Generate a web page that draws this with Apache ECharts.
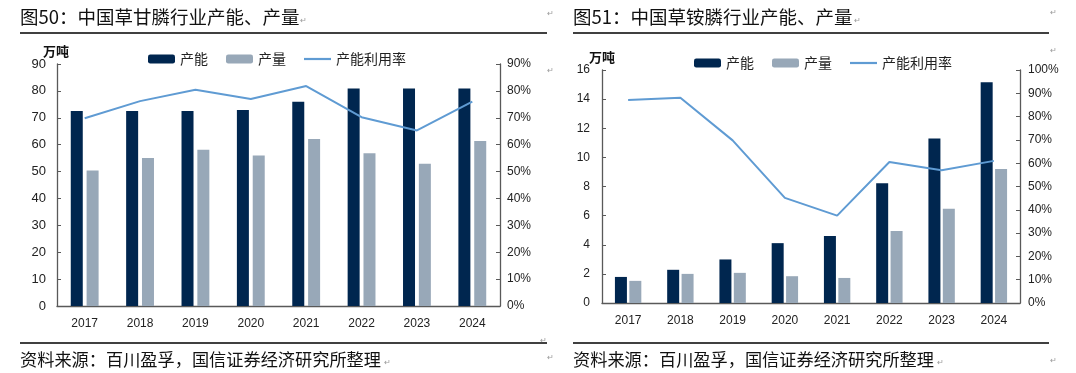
<!DOCTYPE html>
<html>
<head>
<meta charset="utf-8">
<script src="https://cdn.jsdelivr.net/npm/echarts@6/dist/echarts.min.js"></script>
<style>
html,body{margin:0;padding:0;background:#fff;}
#c{width:1076px;height:373px;}
</style>
</head>
<body>
<div id="c"></div>
<script>
// ---- data ----
const years = ['2017','2018','2019','2020','2021','2022','2023','2024'];
// 图50 草甘膦 (万吨, %)
const glyCapacity = [72.5, 72.5, 72.5, 72.9, 76.0, 80.9, 80.9, 80.9];
const glyOutput   = [50.4, 55.0, 58.1, 56.0, 62.1, 56.8, 52.9, 61.4];
const glyRate     = [69.8, 76.2, 80.4, 77.0, 81.8, 70.2, 65.3, 76.0];
// 图51 草铵膦 (万吨, %)
const gluCapacity = [1.79, 2.28, 2.99, 4.11, 4.60, 8.23, 11.30, 15.16];
const gluOutput   = [1.52, 2.00, 2.07, 1.84, 1.72, 4.94, 6.48, 9.21];
const gluRate     = [87.1, 88.1, 69.8, 45.1, 37.5, 60.5, 57.0, 61.0];
const seriesNames = ['产能', '产量', '产能利用率'];
const titles = ['图50：中国草甘膦行业产能、产量', '图51：中国草铵膦行业产能、产量'];
const sourceText = '资料来源：百川盈孚，国信证券经济研究所整理';
const unitText = '万吨';

// ---- style ----
const DARK = '#00264f', LIGHT = '#98a8b8', LINE = '#5f9bd3';
const AXIS = '#595959';
const CJK = '"Noto Sans CJK SC", sans-serif';
const NUM = '"Liberation Sans", Arial, sans-serif';

function yAxis(grid, min, max, interval, pos, suffix, fs, margin) {
  return {
    type: 'value', gridIndex: grid, position: pos, min: min, max: max, interval: interval,
    splitLine: {show: false},
    axisLine: {show: true, lineStyle: {color: AXIS, width: 1.3}},
    axisTick: {show: true, inside: true, length: 4, lineStyle: {color: AXIS}},
    axisLabel: {formatter: '{value}' + suffix, color: '#222', fontSize: fs, fontFamily: NUM, margin: margin}
  };
}
function xAxis(grid, fs) {
  return {
    type: 'category', gridIndex: grid, data: years,
    axisLine: {lineStyle: {color: AXIS, width: 1.3}},
    axisTick: {inside: true, length: 5, lineStyle: {color: AXIS}},
    axisLabel: {color: '#222', fontSize: fs, fontFamily: NUM, margin: 12}
  };
}
function legend(left, top) {
  return {
    left: left, top: top, padding: 0, itemWidth: 27, itemHeight: 9, itemGap: 18,
    data: [
      {name: seriesNames[0]},
      {name: seriesNames[1]},
      {name: seriesNames[2], icon: 'path://M0,0L27,0L27,2.2L0,2.2Z'}
    ],
    textStyle: {fontSize: 14, fontFamily: CJK, color: '#222'}
  };
}
function txt(x, y, s, fs, opts) {
  return Object.assign({type: 'text', x: x, y: y, style: Object.assign({text: s, fontSize: fs, fontFamily: CJK, fill: '#111', textVerticalAlign: 'middle'}, opts || {})});
}
function hline(x1, x2, y) {
  return {type: 'line', shape: {x1: x1, y1: y, x2: x2, y2: y}, style: {stroke: '#000', lineWidth: 1.3}};
}
const mark = (x, y) => txt(x, y, '↵', 8, {fill: '#999'});

const chart = echarts.init(document.getElementById('c'), null, {renderer: 'canvas'});
chart.setOption({
  animation: false,
  grid: [
    {left: 57, top: 64, width: 443, height: 242},
    {left: 602, top: 70, width: 418, height: 233}
  ],
  xAxis: [xAxis(0, 12), xAxis(1, 12)],
  yAxis: [
    yAxis(0, 0, 90, 10, 'left', '', 13, 11),
    yAxis(0, 0, 90, 10, 'right', '%', 12, 7),
    yAxis(1, 0, 16, 2, 'left', '', 12, 12),
    yAxis(1, 0, 100, 10, 'right', '%', 12, 8)
  ],
  legend: [legend(148, 52), legend(694, 56)],
  series: [
    {name: seriesNames[0], type: 'bar', xAxisIndex: 0, yAxisIndex: 0, data: glyCapacity, barWidth: 12, barGap: '32%', itemStyle: {color: DARK}},
    {name: seriesNames[1], type: 'bar', xAxisIndex: 0, yAxisIndex: 0, data: glyOutput, barWidth: 12, barGap: '32%', itemStyle: {color: LIGHT}},
    {name: seriesNames[2], type: 'line', xAxisIndex: 0, yAxisIndex: 1, data: glyRate, symbol: 'none', lineStyle: {color: LINE, width: 2}, itemStyle: {color: LINE}},
    {name: seriesNames[0], type: 'bar', xAxisIndex: 1, yAxisIndex: 2, data: gluCapacity, barWidth: 12, barGap: '20%', itemStyle: {color: DARK}},
    {name: seriesNames[1], type: 'bar', xAxisIndex: 1, yAxisIndex: 2, data: gluOutput, barWidth: 12, barGap: '20%', itemStyle: {color: LIGHT}},
    {name: seriesNames[2], type: 'line', xAxisIndex: 1, yAxisIndex: 3, data: gluRate, symbol: 'none', lineStyle: {color: LINE, width: 2}, itemStyle: {color: LINE}}
  ],
  graphic: [
    txt(20, 17, titles[0], 18.5),
    txt(573, 17, titles[1], 18.5),
    hline(20, 547, 33), hline(573, 1049, 33),
    hline(20, 547, 343), hline(573, 1049, 343),
    txt(20, 359, sourceText, 17.2),
    txt(573, 359, sourceText, 17.2),
    txt(43, 51, unitText, 13, {fontWeight: 'bold'}),
    txt(589, 57, unitText, 13, {fontWeight: 'bold'}),
    mark(300, 20), mark(854, 20), mark(384, 362), mark(937, 362),
    mark(547, 13), mark(1050, 12), mark(1050, 50), mark(547, 70),
    mark(540, 340), mark(547, 357), mark(1050, 360)
  ]
});
</script>
</body>
</html>
